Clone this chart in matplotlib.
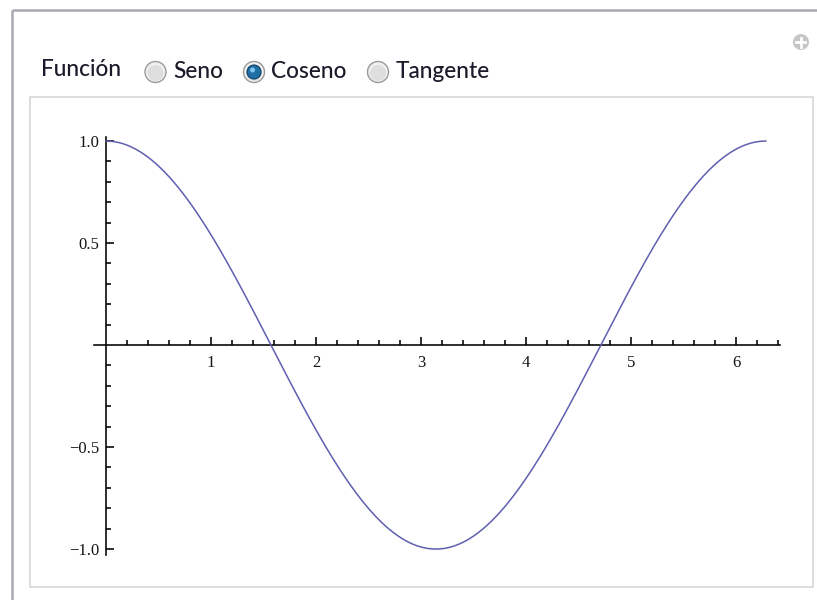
import numpy as np
import matplotlib
matplotlib.use("Agg")
from matplotlib import pyplot as plt
from matplotlib.patches import Circle, Rectangle

# Control bar: the three functions that can be chosen, and the one shown
control_label = "Función"
options = ["Seno", "Coseno", "Tangente"]
selected = "Coseno"
funcs = {"Seno": np.sin, "Coseno": np.cos, "Tangente": np.tan}

# Plot domain and tick layout
x_min, x_max = 0.0, 2 * np.pi
x_major = [1, 2, 3, 4, 5, 6]
y_major = [-1.0, -0.5, 0.5, 1.0]
y_labels = ["\u22121.0", "\u22120.5", "0.5", "1.0"]

W, H = 817, 600
fig = plt.figure(figsize=(W / 100, H / 100), dpi=100)
fig.patch.set_facecolor("white")

# Overlay in pixel coordinates for the panel frame and the controls
ov = fig.add_axes([0, 0, 1, 1])
ov.set_xlim(0, W)
ov.set_ylim(H, 0)
ov.axis("off")

# outer panel frame (left and top edge only visible)
ov.plot([12, 12], [H + 5, 10], color="#a8a8b2", lw=1.8, solid_capstyle="butt")
ov.plot([12, W + 5], [10, 10], color="#a8a8b2", lw=1.8, solid_capstyle="butt")
# inner plot box
ov.add_patch(Rectangle((30, 97), 783, 490, fill=False, ec="#dadada", lw=1.3))

# plus icon top right
ov.add_patch(Circle((801, 42), 8, fc="#c6c6c6", ec="none"))
ov.plot([796.5, 805.5], [42, 42], color="white", lw=2)
ov.plot([801, 801], [37.5, 46.5], color="white", lw=2)

ui_font = ["Lato", "DejaVu Sans"]
ov.text(41, 70, control_label, fontsize=16.3, family=ui_font, color="#1a1a2a",
        va="center", ha="left", weight="medium")

radio_x = [155.5, 254, 378]
for name, cx in zip(options, radio_x):
    ov.add_patch(Circle((cx, 72), 10.5, fc="#f0f0f0", ec="#9a9a9a", lw=1.0))
    ov.add_patch(Circle((cx, 73), 8, fc="#dedede", ec="none"))
    if name == selected:
        ov.add_patch(Circle((cx, 72), 7, fc="#1f6fa6", ec="#0d3f66", lw=0.8))
        ov.add_patch(Circle((cx - 1.5, 70), 2.5, fc="#7fc4ee", ec="none"))
    ov.text(cx + 17.5, 71, name, fontsize=16.3, family=ui_font, color="#1a1a2a",
            va="center", ha="left", weight="medium")

# Main plot axes, placed over the inner box
ax = fig.add_axes([30 / W, 13 / H, 783 / W, 490 / H])
ax.set_facecolor("none")
ax.set_xlim(-0.724, 6.733)
ax.set_ylim(-1.186, 1.216)

x = np.linspace(x_min, x_max, 600)
ax.plot(x, funcs[selected](x), color="#5f5fb0", lw=1.1, zorder=3)

for side in ("top", "right"):
    ax.spines[side].set_visible(False)
ax.spines["left"].set_position(("data", 0))
ax.spines["bottom"].set_position(("data", 0))
ax.spines["left"].set_bounds(-1.03, 1.02)
ax.spines["bottom"].set_bounds(-0.11, 6.42)
for side in ("left", "bottom"):
    ax.spines[side].set_linewidth(1.15)
    ax.spines[side].set_color("black")

ax.set_xticks(x_major)
ax.set_xticklabels([str(v) for v in x_major])
ax.set_xticks([v / 5 for v in range(1, 33) if v % 5], minor=True)
ax.set_yticks(y_major)
ax.set_yticklabels(y_labels)
ax.set_yticks([v / 10 for v in range(-10, 11) if v % 5], minor=True)

for lab in ax.get_xticklabels() + ax.get_yticklabels():
    lab.set_fontfamily(["Liberation Serif", "DejaVu Serif"])
    lab.set_fontsize(12)
    lab.set_color("#151515")

ax.tick_params(which="both", direction="in", color="black", width=1.15)
ax.tick_params(which="major", length=6)
ax.tick_params(which="minor", length=3.5)
ax.tick_params(axis="x", which="major", pad=7.5)
ax.tick_params(axis="y", which="major", pad=5)

fig.savefig("out.png", dpi=100, facecolor="white")
